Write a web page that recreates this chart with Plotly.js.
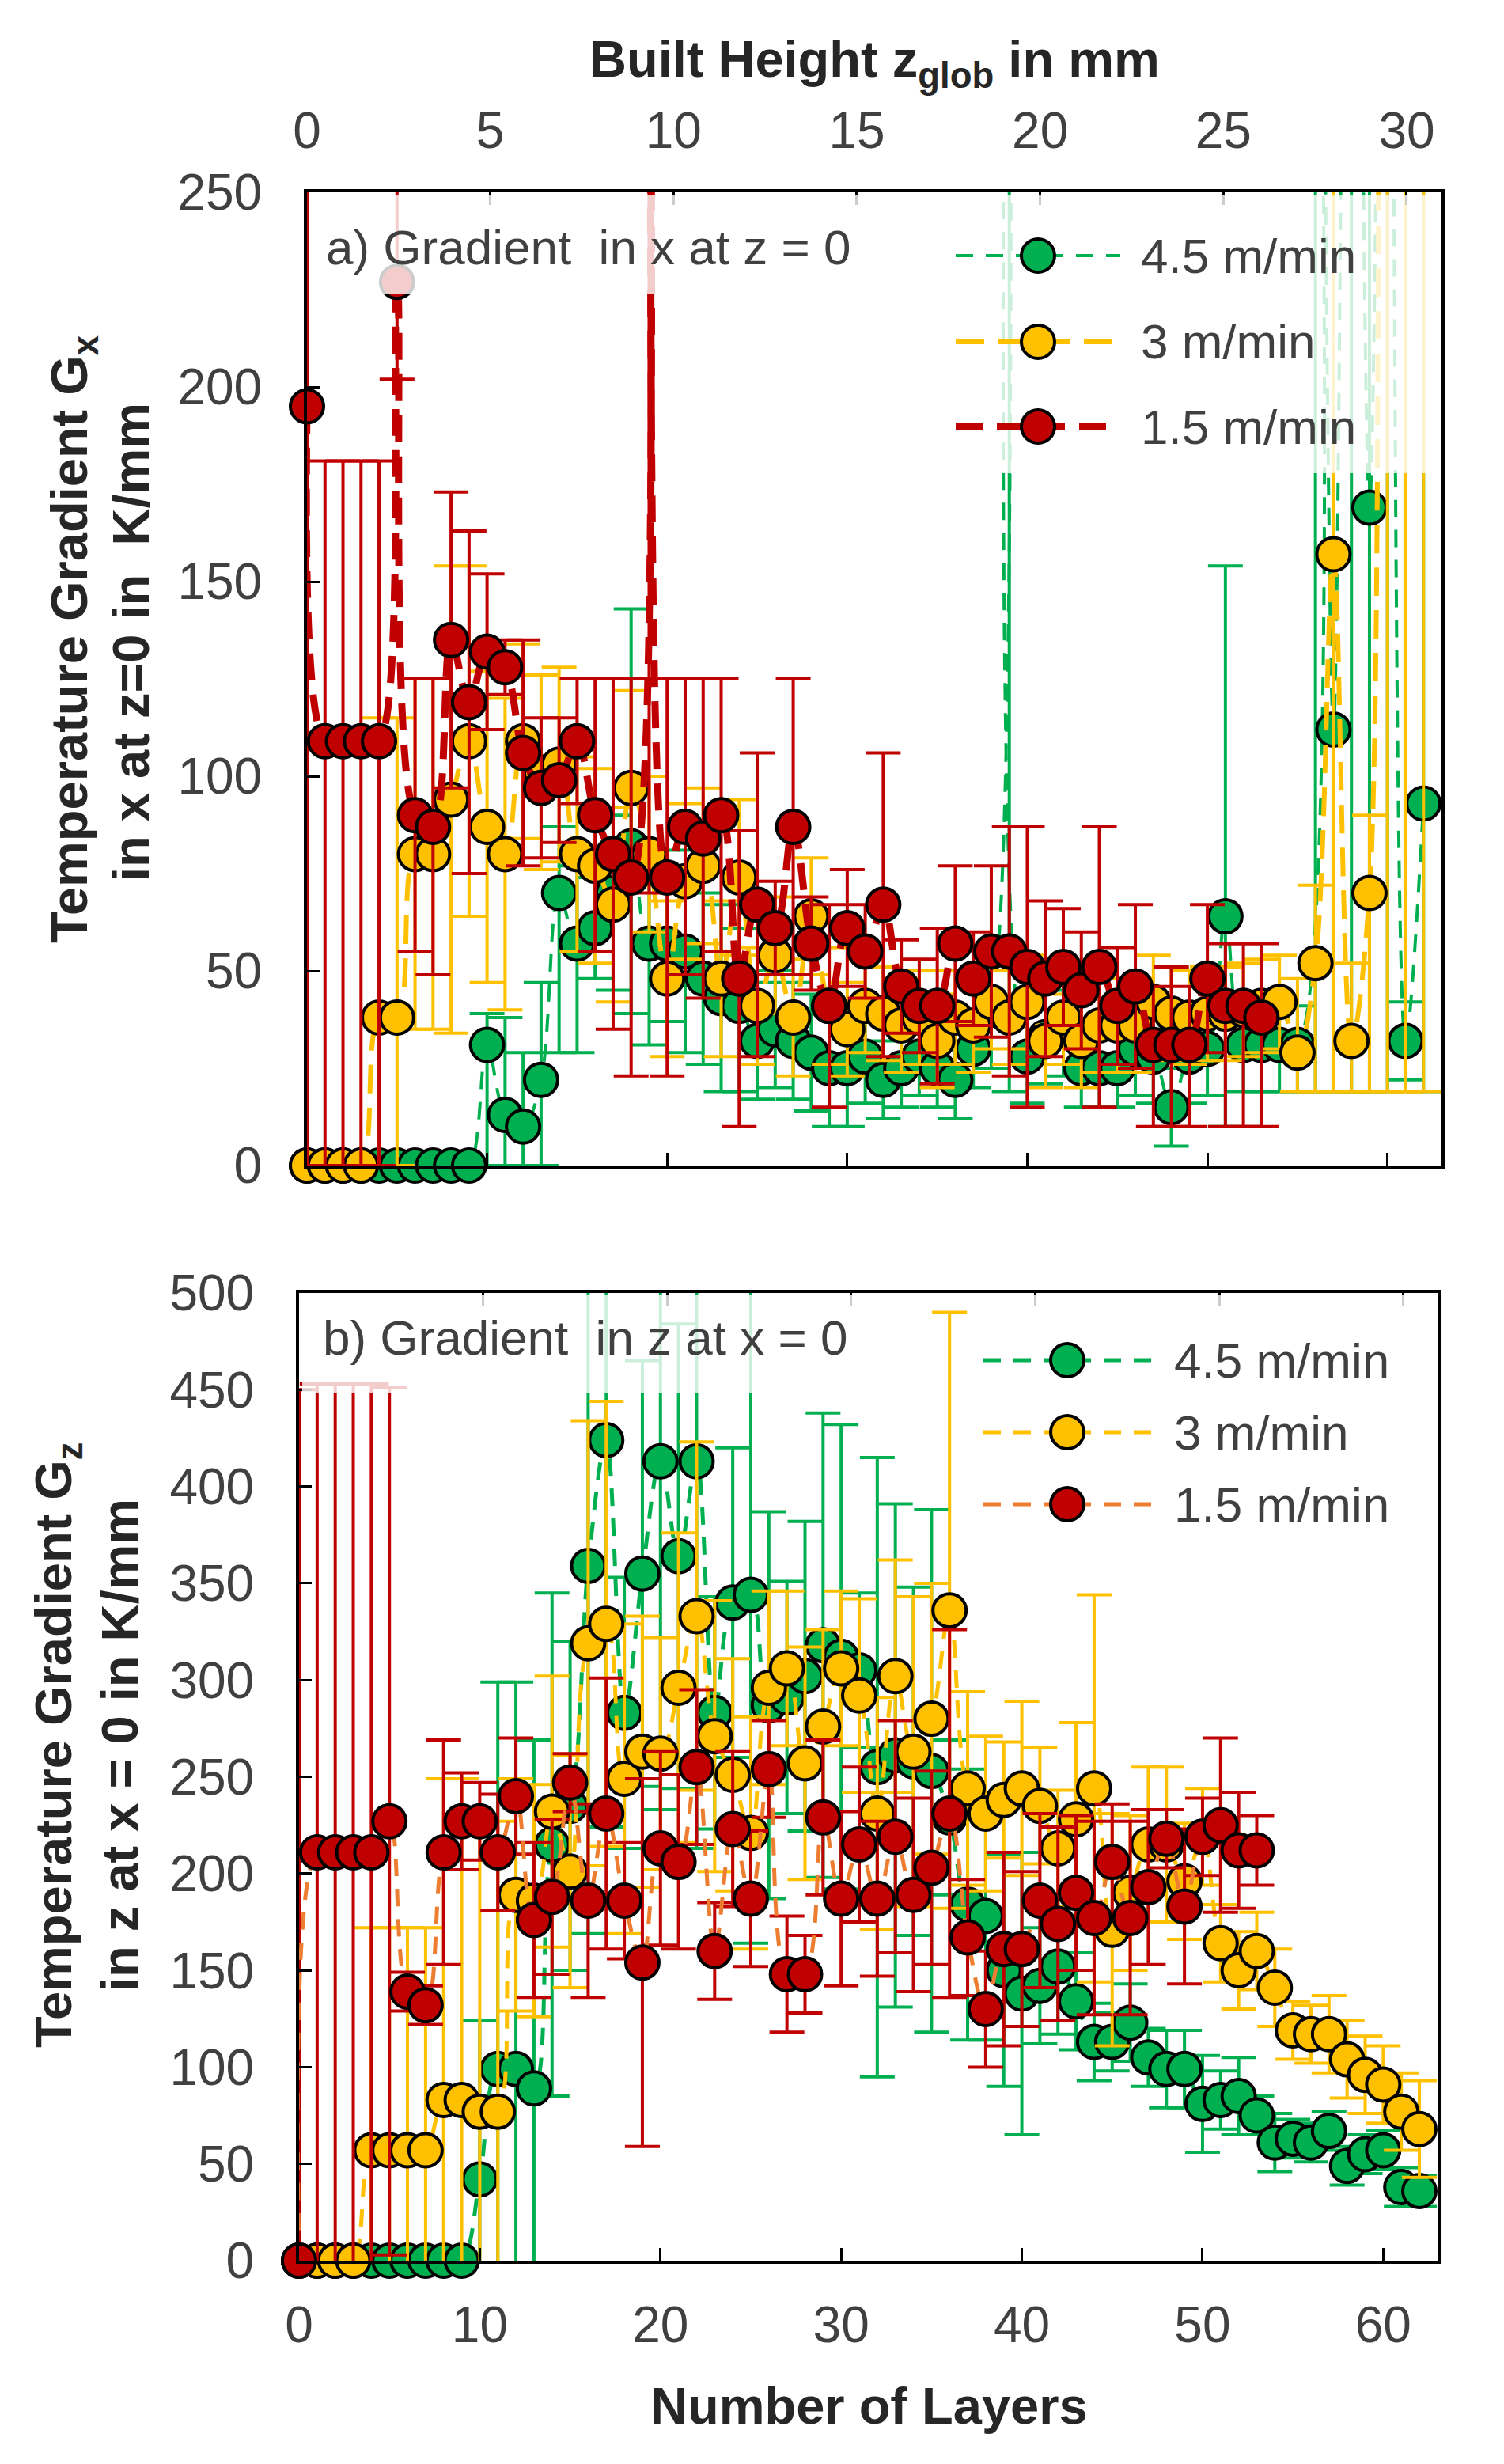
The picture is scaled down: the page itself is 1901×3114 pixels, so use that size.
<!DOCTYPE html>
<html>
<head>
<meta charset="utf-8">
<script src="https://cdn.plot.ly/plotly-3.0.1.min.js"></script>
<style>html,body{margin:0;padding:0;background:#fff;}</style>
</head>
<body>
<div id="chart" style="width:1901px;height:3114px;"></div>
<script>
// Layer number (x values, shared by both panels)
let layers = [0,1,2,3,4,5,6,7,8,9,10,11,12,13,14,15,16,17,18,19,20,21,22,23,24,25,26,27,28,29,30,
  31,32,33,34,35,36,37,38,39,40,41,42,43,44,45,46,47,48,49,50,51,52,53,54,55,56,57,58,59,60,61,62];

// Built height axis ticks (mm)
let heightTicks = [0, 5, 10, 15, 20, 25, 30];

// Series names
let speeds = ["4.5 m/min", "3 m/min", "1.5 m/min"];

// a) Gradient in x at z = 0  (K/mm)
let gxGreen = [0,0,0,0,0,0,0,0,0,0, 31,13,10,22,70,57,61,70,82,57, 57,55,48,43,41,32,35,32,29,25,
  25,28,22,25,28,25,22,30,40,500, 28,33,35,25,25,25,30,28,15,28, 30,64,31,31,31,31,450,112,500,169, 450,32,93];
let gxGreenPlus = [0,0,0,0,0,0,0,0,0,0, 8,25,19,25,17,20,13,20,61,20, 20,26,22,24,20,15,15,15,15,15,
  15,12,10,10,10,10,10,10,15,100, 12,12,12,10,10,10,12,12,10,12, 12,90,12,12,12,10,100,200,100,150, 100,10,200];
let gxGreenMinus = [0,0,0,0,0,0,0,0,0,0, 31,13,10,22,41,28,13,25,43,26, 20,26,22,24,22,15,15,15,15,15,
  15,12,10,10,10,10,10,10,15,481, 12,12,12,10,10,10,12,12,10,12, 12,54,12,12,12,12,431,93,481,150, 431,10,74];

let gxYellow = [0,0,0,0,38,38,80,80,94,109, 87,80,109,101,103,80,77,67,97,80, 48,73,77,48,74,41,54,38,64,41,
  35,41,39,36,38,32,38,36,42,38, 42,32,38,32,36,36,36,42,39,38, 39,39,40,41,42,29,52,157,32,70, 420,380,450];
let gxYellowPlus = [0,0,0,0,77,77,45,45,60,45, 40,40,25,25,25,25,25,25,25,20, 20,20,20,20,20,15,15,15,15,15,
  12,12,12,12,12,12,12,12,12,12, 12,12,12,12,12,12,12,12,12,12, 12,12,12,12,12,19,20,100,20,20, 100,100,100];
let gxYellowMinus = [0,0,0,0,38,38,45,45,60,45, 40,40,25,25,25,25,25,25,25,20, 20,20,20,20,20,15,15,15,15,15,
  12,12,12,12,12,12,12,12,12,12, 12,12,12,12,12,12,12,12,12,12, 12,12,12,12,12,10,33,138,13,51, 401,361,431];

let gxRed = [195,109,109,109,109,227,90,87,135,119, 132,128,106,97,99,109,90,80,74,420, 74,87,84,90,48,67,61,87,57,41,
  61,55,67,46,41,41,57,48,55,55, 51,48,51,45,51,41,46,31,31,31, 48,41,41,38];
let gxRedPlus = [100,72,72,72,72,25,35,38,38,44, 20,7,29,18,16,16,35,45,51,100, 51,38,41,35,38,39,12,38,12,26,
  15,12,39,12,12,20,20,12,22,32, 36,20,15,15,36,15,21,15,20,15, 19,16,16,19];
let gxRedMinus = [195,109,109,109,109,25,35,38,38,44, 20,7,29,18,16,16,35,45,51,350, 51,38,41,35,38,39,12,38,12,26,
  15,12,39,12,12,20,20,12,22,32, 36,20,15,15,36,15,21,21,21,21, 19,31,31,28];

// b) Gradient in z at x = 0  (K/mm)
let gzGreen = [0,0,0,0,0,0,0,0,0,0, 42,99,99,89,215,235,359,424,283,355, 413,364,413,283,340,344,287,291,302,318,
  312,305,255,261,258,253,229,184,178,150, 138,142,152,134,113,113,123,105,99,99, 81,83,85,75,61,63,61,67,49,55, 57,38,36];
let gzGreenErr = [0,0,0,0,0,0,0,0,0,0, 82,200,200,180,130,85,190,200,70,110, 180,120,200,60,80,180,100,60,80,120,
  120,40,160,130,90,135,40,70,64,60, 73,30,35,25,20,15,20,15,20,20, 25,15,20,10,15,10,10,10,10,10, 10,10,8];

let gzYellow = [0,0,0,0,57,57,57,57,83,83, 77,77,189,186,232,201,319,329,249,263, 262,296,333,271,251,221,296,306,257,276,
  306,292,231,302,263,280,336,244,231,238, 244,235,213,228,244,171,190,215,215,196, 219,164,150,160,141,119,117,117,104,96, 91,77,68];
let gzYellowErr = [0,0,0,0,115,115,115,115,166,166, 150,150,60,60,70,60,115,115,80,70, 60,80,90,70,60,60,50,40,60,50,
  40,50,60,60,80,70,154,50,40,30, 45,30,30,50,100,60,40,40,40,30, 25,20,20,20,20,15,15,20,20,20, 20,20,25];

let gzRed = [0,211,211,211,211,227,139,132,211,227, 227,211,240,176,188,247,186,231,186,154, 213,206,255,160,223,187,254,148,148,229,
  187,215,187,219,189,203,231,167,130,161, 161,186,174,190,177,206,177,193,218,183, 219,225,212,212];
let gzRedErr = [450,242,242,242,242,224,10,10,58,25, 20,30,30,40,40,15,50,70,30,95, 50,45,40,25,40,35,25,30,20,40,
  45,40,40,60,50,50,95,30,30,50, 40,45,50,40,50,30,50,40,15,40, 20,45,30,18];

// page size, used to place things in paper coordinates
const W = 1901, H = 3114;
const px = v => v / W;
const py = v => 1 - v / H;

const green = "#00B050", yellow = "#FFC000", red = "#C00000", orange = "#ED7D31";
const fam = "Liberation Sans, Arial, sans-serif";

function series(x, y, xa, ya, col, lineCol, lw, dash, err) {
  return {
    x: x, y: y, xaxis: xa, yaxis: ya, type: "scatter", mode: "lines+markers",
    cliponaxis: false, hoverinfo: "skip",
    line: {color: lineCol, width: lw, dash: dash, shape: "spline", smoothing: 1},
    marker: {size: 42, color: col, line: {color: "#000", width: 4}},
    error_y: Object.assign({type: "data", color: col, thickness: 4, width: 22}, err)
  };
}

let data = [
  series(layers, gxGreen, "x", "y", green, green, 4, "22px,16px", {symmetric: false, array: gxGreenPlus, arrayminus: gxGreenMinus}),
  series(layers, gxYellow, "x", "y", yellow, yellow, 6, "36px,18px", {symmetric: false, array: gxYellowPlus, arrayminus: gxYellowMinus}),
  series(layers, gxRed, "x", "y", red, red, 9, "34px,18px", {symmetric: false, array: gxRedPlus, arrayminus: gxRedMinus}),
  series(layers, gzGreen, "x3", "y2", green, green, 5, "22px,16px", {array: gzGreenErr}),
  series(layers, gzYellow, "x3", "y2", yellow, yellow, 5, "22px,16px", {array: gzYellowErr}),
  series(layers, gzRed, "x3", "y2", red, orange, 5, "22px,16px", {array: gzRedErr}),
  // empty traces so the built height axes get drawn
  {x: [], y: [], xaxis: "x2", yaxis: "y", type: "scatter"},
  {x: [], y: [], xaxis: "x4", yaxis: "y2", type: "scatter"}
];

let tickFont = {family: fam, size: 64, color: "#404040"};
let base = {showgrid: false, zeroline: false, ticks: "inside", ticklen: 16, tickwidth: 3, tickcolor: "#000",
  linecolor: "#000", linewidth: 4, tickfont: tickFont};

let layout = {
  width: W, height: H, margin: {l: 0, r: 0, t: 0, b: 0},
  paper_bgcolor: "#fff", plot_bgcolor: "#fff", showlegend: false,
  xaxis: Object.assign({}, base, {domain: [px(388), px(1822)], anchor: "y", range: [0, 63], dtick: 10,
    showticklabels: false, showline: true, mirror: true}),
  xaxis2: Object.assign({}, base, {overlaying: "x", anchor: "y", side: "top", range: [0, 30.95],
    tickvals: heightTicks, showline: false, ticklabelstandoff: 42}),
  yaxis: Object.assign({}, base, {domain: [py(1473), py(243)], anchor: "x", range: [0, 250], dtick: 50,
    showline: true, mirror: true, ticklabelstandoff: 40}),
  xaxis3: Object.assign({}, base, {domain: [px(378), px(1818)], anchor: "y2", range: [0, 63.05], dtick: 10,
    showline: true, mirror: true, ticklabelstandoff: 22}),
  xaxis4: Object.assign({}, base, {overlaying: "x3", anchor: "y2", side: "top", range: [0, 30.95],
    tickvals: heightTicks, showticklabels: false, showline: false}),
  yaxis2: Object.assign({}, base, {domain: [py(2857), py(1634)], anchor: "x3", range: [0, 500], dtick: 50,
    showline: true, mirror: true, ticklabelstandoff: 40}),
  shapes: [],
  annotations: []
};

function note(text, x, y, opts) {
  layout.annotations.push(Object.assign({text: text, x: px(x), y: py(y), xref: "paper", yref: "paper",
    xanchor: "center", yanchor: "middle", showarrow: false,
    font: {family: fam, size: 65, color: "#262626"}}, opts || {}));
}

// axis titles
note("<b>Built Height z<sub>glob</sub> in mm</b>", 1105, 79);
note("<b>Temperature Gradient G<sub>x</sub></b>", 92, 808, {textangle: -90});
note("<b>in x at z=0 in  K/mm</b>", 165, 812, {textangle: -90});
note("<b>Temperature Gradient G<sub>z</sub></b>", 72, 2205, {textangle: -90});
note("<b>in z at x = 0 in K/mm</b>", 151, 2206, {textangle: -90});
note("<b>Number of Layers</b>", 1098, 3040);

// panel labels on semi-transparent boxes
function box(x0, y0, x1, y1) {
  layout.shapes.push({type: "rect", xref: "paper", yref: "paper", x0: px(x0), x1: px(x1), y0: py(y1), y1: py(y0),
    fillcolor: "rgba(255,255,255,0.8)", line: {width: 0}, layer: "above"});
}
box(392, 246, 1118, 372);
box(382, 1637, 1112, 1760);
let labelFont = {family: fam, size: 62, color: "#404040"};
note("a) Gradient\u00a0 in x at z = 0", 410, 313, {xanchor: "left", font: labelFont});
note("b) Gradient\u00a0 in z at x = 0", 406, 1690, {xanchor: "left", font: labelFont});

// legends
function legend(x0, y0, x1, y1, rows, lineX0, lineX1, textX, styles) {
  box(x0, y0, x1, y1);
  styles.forEach((s, i) => {
    let y = rows[i], cx = (lineX0 + lineX1) / 2;
    layout.shapes.push({type: "line", xref: "paper", yref: "paper", x0: px(lineX0), x1: px(lineX1), y0: py(y), y1: py(y),
      line: {color: s.line, width: s.width, dash: s.dash}, layer: "above"});
    layout.shapes.push({type: "circle", xref: "paper", yref: "paper", x0: px(cx - 21), x1: px(cx + 21),
      y0: py(y + 21), y1: py(y - 21), fillcolor: s.fill, line: {color: "#000", width: 4}, layer: "above"});
    note(speeds[i], textX, y, {xanchor: "left", font: labelFont});
  });
}
legend(1190, 246, 1817, 598, [323, 432, 539], 1208, 1416, 1440, [
  {line: green, fill: green, width: 4, dash: "22px,16px"},
  {line: yellow, fill: yellow, width: 6, dash: "36px,18px"},
  {line: red, fill: red, width: 9, dash: "34px,18px"}
]);
legend(1225, 1637, 1814, 1955, [1719, 1810, 1901], 1243, 1455, 1482, [
  {line: green, fill: green, width: 5, dash: "22px,16px"},
  {line: yellow, fill: yellow, width: 5, dash: "22px,16px"},
  {line: orange, fill: red, width: 5, dash: "22px,16px"}
]);

Plotly.newPlot("chart", data, layout, {staticPlot: true});
</script>
</body>
</html>
